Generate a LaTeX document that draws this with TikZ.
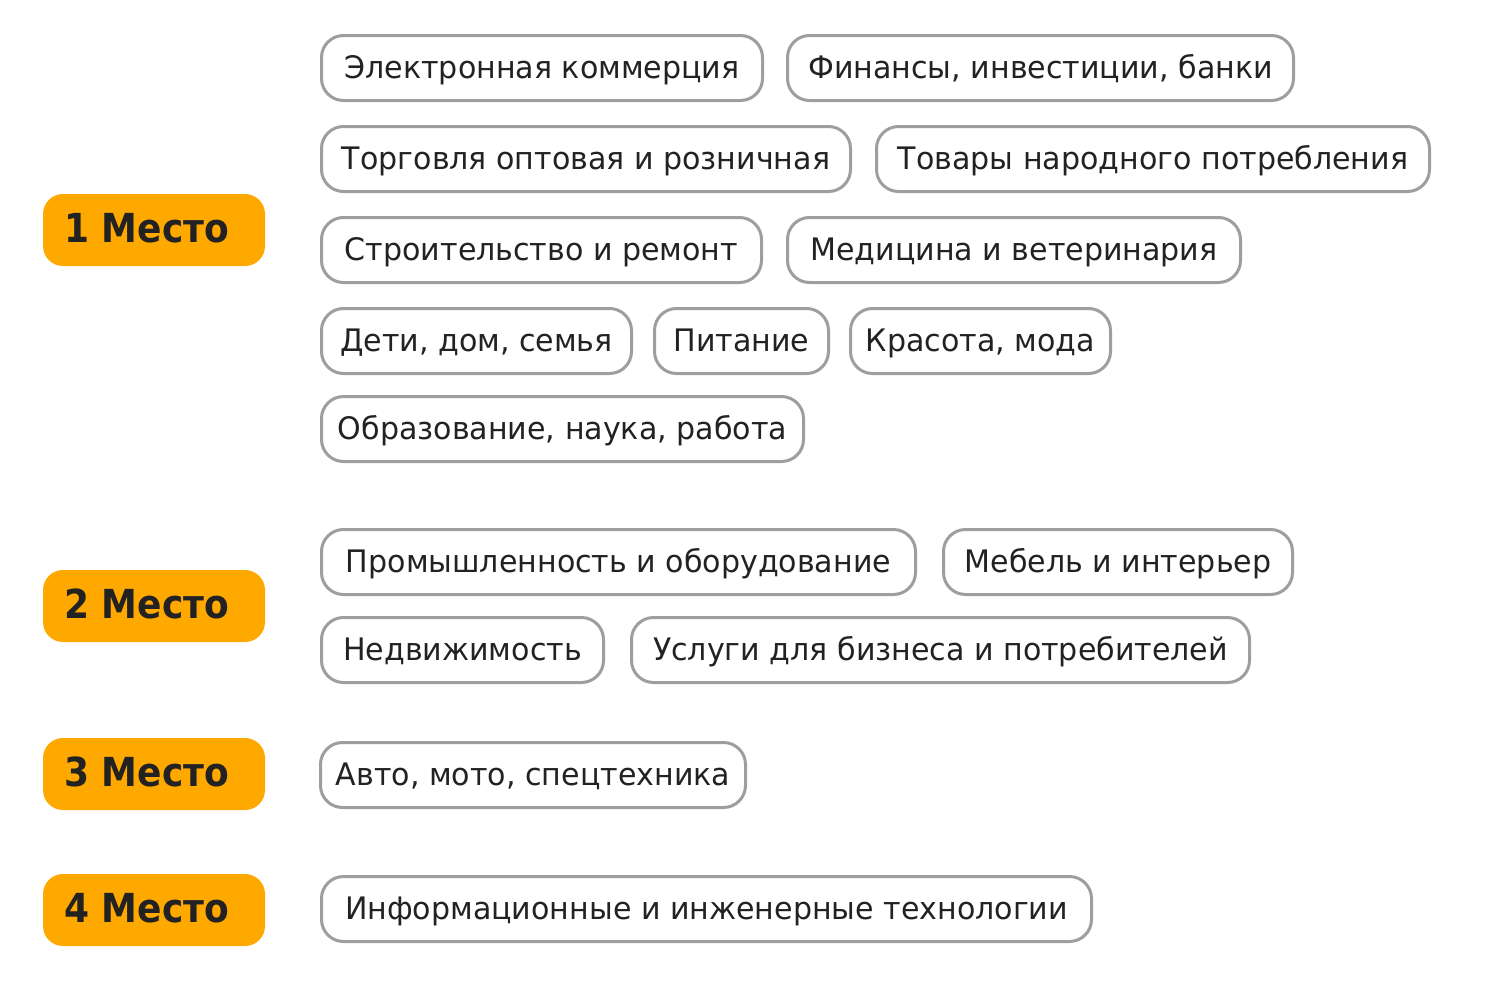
\documentclass[tikz,border=0pt]{standalone}
\usepackage{fontspec}
\setmainfont{DejaVu Sans}[FakeStretch=0.97]
\newfontfamily\badgefont{DejaVu Sans Bold}[FakeStretch=0.9]
\definecolor{badge}{HTML}{FFA800}
\definecolor{pillline}{HTML}{9E9E9E}
\definecolor{ink}{HTML}{222222}
\tikzset{
  pill/.style={draw=pillline, line width=3pt, rounded corners=22pt, fill=white},
  pilltext/.style={text=ink, font=\fontsize{31}{36}\selectfont, inner sep=0pt, anchor=base},
  badgebox/.style={fill=badge, rounded corners=20pt},
  badgetext/.style={text=ink, font=\badgefont\fontsize{40}{46}\selectfont, inner sep=0pt, anchor=base west},
}
\newcommand{\mypill}[5]{%
  \draw[pill] (#2+1.5,#4-32.5) rectangle (#3-1.5,#4+32.5);
  \node[pilltext] (#1) at ({(#2+#3)/2},#4+10) {#5};
}
\newcommand{\mybadge}[3]{%
  \fill[badgebox] (43,#2-36) rectangle (265,#2+36);
  \node[badgetext] (#1) at (64,#2+12) {#3};
}
\begin{document}
\begin{tikzpicture}[x=1pt,y=-1pt]
\useasboundingbox (0,0) rectangle (1500,999);
\mybadge{b1}{230}{1 Место}
\mybadge{b2}{606}{2 Место}
\mybadge{b3}{774}{3 Место}
\mybadge{b4}{910}{4 Место}
\mypill{p1}{320}{764}{68}{Электронная коммерция}
\mypill{p2}{786}{1295}{68}{Финансы, инвестиции, банки}
\mypill{p3}{320}{852}{159}{Торговля оптовая и розничная}
\mypill{p4}{875}{1431}{159}{Товары народного потребления}
\mypill{p5}{320}{763}{250}{Строительство и ремонт}
\mypill{p6}{786}{1242}{250}{Медицина и ветеринария}
\mypill{p7}{320}{633}{341}{Дети, дом, семья}
\mypill{p8}{653}{830}{341}{Питание}
\mypill{p9}{849}{1112}{341}{Красота, мода}
\mypill{p10}{320}{805}{429}{Образование, наука, работа}
\mypill{p11}{320}{917}{562}{Промышленность и оборудование}
\mypill{p12}{942}{1294}{562}{Мебель и интерьер}
\mypill{p13}{320}{605}{650}{Недвижимость}
\mypill{p14}{630}{1251}{650}{Услуги для бизнеса и потребителей}
\mypill{p15}{319}{747}{775}{Авто, мото, спецтехника}
\mypill{p16}{320}{1093}{909}{Информационные и инженерные технологии}
\end{tikzpicture}
\end{document}
